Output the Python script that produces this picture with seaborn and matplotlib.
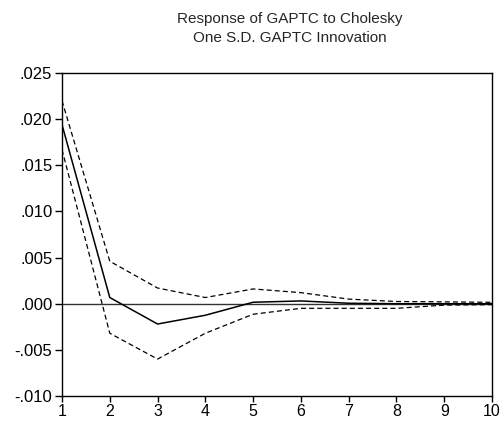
import matplotlib
matplotlib.use("Agg")
import matplotlib.pyplot as plt
import seaborn as sns
import pandas as pd
from matplotlib.ticker import FuncFormatter

periods = [1, 2, 3, 4, 5, 6, 7, 8, 9, 10]
response = [0.0194, 0.00067, -0.0022, -0.00125, 0.00016, 0.0003, 0.00005, 0.0, 0.0, 0.0]
upper = [0.0220, 0.0046, 0.0017, 0.00067, 0.0016, 0.0012, 0.0005, 0.00024, 0.0002, 0.00015]
lower = [0.0167, -0.0032, -0.0060, -0.0032, -0.00114, -0.0005, -0.0005, -0.0005, -0.00015, -0.0001]
yticks = [-0.010, -0.005, 0.000, 0.005, 0.010, 0.015, 0.020, 0.025]

sns.set_style("ticks")
plt.rcParams['font.family'] = ['Liberation Sans', 'DejaVu Sans']

df = pd.DataFrame({"period": periods, "response": response, "upper": upper, "lower": lower})

fig = plt.figure(figsize=(5.04, 4.21), dpi=100)
ax = fig.add_axes([62/504, 25/421, 430/504, 323/421])

ax.axhline(0, color="#333333", lw=1.0, zorder=1)
sns.lineplot(data=df, x="period", y="response", ax=ax, color="black", lw=1.1)
sns.lineplot(data=df, x="period", y="upper", ax=ax, color="black", lw=0.9, linestyle=(0, (4, 2.5)))
sns.lineplot(data=df, x="period", y="lower", ax=ax, color="black", lw=0.9, linestyle=(0, (4, 2.5)))

ax.set_xlim(1, 10)
ax.set_ylim(-0.010, 0.025)
ax.set_xticks(periods)
ax.set_yticks(yticks)

def fmt(v, pos):
    s = f"{v:.3f}"
    s = s.replace("0.", ".")
    if s == "-.000":
        s = ".000"
    return s

ax.yaxis.set_major_formatter(FuncFormatter(fmt))
ax.set_xlabel("")
ax.set_ylabel("")
for sp in ax.spines.values():
    sp.set_visible(True)
    sp.set_linewidth(1.0)
    sp.set_color("black")
ax.tick_params(axis="both", direction="out", length=5, width=1, colors="black")
ax.tick_params(axis="y", pad=2, labelsize=12)
ax.tick_params(axis="x", pad=1.5, labelsize=11.5, length=4.5)

fig.text(290/504, 1 - 19/421, "Response of GAPTC to Cholesky", ha="center", va="center", fontsize=11)
fig.text(290/504, 1 - 38/421, "One S.D. GAPTC Innovation", ha="center", va="center", fontsize=11)

fig.savefig("out.png", dpi=100)
